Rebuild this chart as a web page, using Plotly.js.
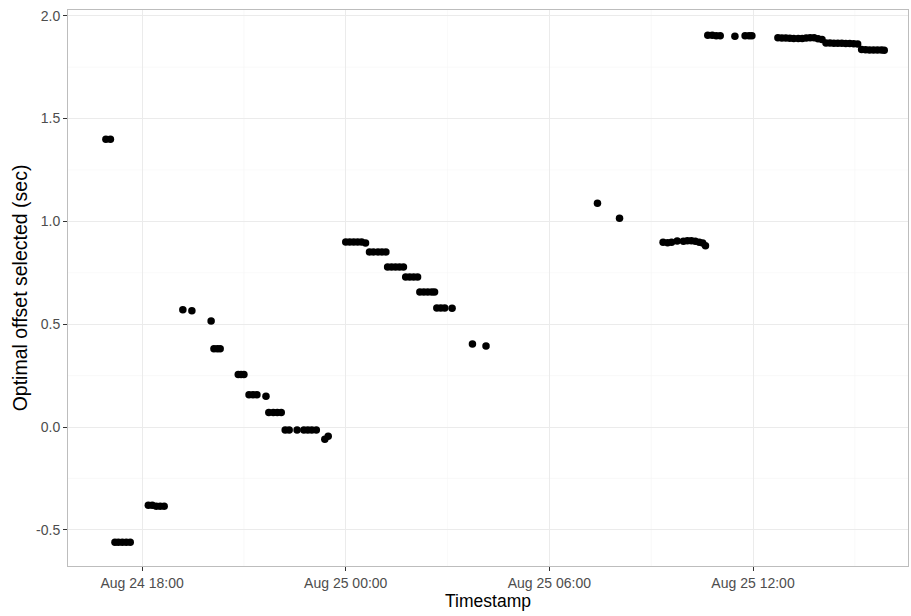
<!DOCTYPE html>
<html>
<head>
<meta charset="utf-8">
<script src="https://cdn.plot.ly/plotly-3.0.1.min.js"></script>
<style>html,body{margin:0;padding:0;background:#fff;}#chart{width:911px;height:616px;}</style>
</head>
<body>
<div id="chart"></div>
<script>
const timestamps = [
  "2020-08-24 16:56","2020-08-24 17:04",
  "2020-08-24 17:12","2020-08-24 17:18","2020-08-24 17:25","2020-08-24 17:32","2020-08-24 17:39",
  "2020-08-24 18:11","2020-08-24 18:18","2020-08-24 18:25","2020-08-24 18:32","2020-08-24 18:39",
  "2020-08-24 19:12","2020-08-24 19:28",
  "2020-08-24 20:02",
  "2020-08-24 20:07","2020-08-24 20:13","2020-08-24 20:18",
  "2020-08-24 20:50","2020-08-24 20:55","2020-08-24 21:00",
  "2020-08-24 21:09","2020-08-24 21:16","2020-08-24 21:23","2020-08-24 21:39",
  "2020-08-24 21:44","2020-08-24 21:52","2020-08-24 21:59","2020-08-24 22:06",
  "2020-08-24 22:13","2020-08-24 22:20","2020-08-24 22:34","2020-08-24 22:46","2020-08-24 22:53","2020-08-24 23:00","2020-08-24 23:08",
  "2020-08-24 23:23","2020-08-24 23:29",
  "2020-08-25 00:00","2020-08-25 00:07","2020-08-25 00:14","2020-08-25 00:21","2020-08-25 00:28","2020-08-25 00:35",
  "2020-08-25 00:42","2020-08-25 00:49","2020-08-25 00:57","2020-08-25 01:04","2020-08-25 01:11",
  "2020-08-25 01:14","2020-08-25 01:21","2020-08-25 01:28","2020-08-25 01:35","2020-08-25 01:42",
  "2020-08-25 01:46","2020-08-25 01:53","2020-08-25 02:00","2020-08-25 02:07",
  "2020-08-25 02:11","2020-08-25 02:18","2020-08-25 02:25","2020-08-25 02:32","2020-08-25 02:37",
  "2020-08-25 02:41","2020-08-25 02:48","2020-08-25 02:55","2020-08-25 03:08",
  "2020-08-25 03:44","2020-08-25 04:08",
  "2020-08-25 07:25","2020-08-25 08:04",
  "2020-08-25 09:21","2020-08-25 09:29","2020-08-25 09:36","2020-08-25 09:46","2020-08-25 09:57","2020-08-25 10:04",
  "2020-08-25 10:11","2020-08-25 10:18","2020-08-25 10:25","2020-08-25 10:31","2020-08-25 10:36",
  "2020-08-25 10:40","2020-08-25 10:48","2020-08-25 10:55","2020-08-25 11:02",
  "2020-08-25 11:28","2020-08-25 11:46","2020-08-25 11:53","2020-08-25 11:58",
  "2020-08-25 12:44","2020-08-25 12:51","2020-08-25 12:58","2020-08-25 13:05","2020-08-25 13:12","2020-08-25 13:20",
  "2020-08-25 13:27","2020-08-25 13:34","2020-08-25 13:41","2020-08-25 13:48","2020-08-25 13:55","2020-08-25 14:02",
  "2020-08-25 14:09","2020-08-25 14:16","2020-08-25 14:23","2020-08-25 14:30","2020-08-25 14:37","2020-08-25 14:44",
  "2020-08-25 14:51","2020-08-25 14:58","2020-08-25 15:05",
  "2020-08-25 15:12","2020-08-25 15:19","2020-08-25 15:26","2020-08-25 15:33","2020-08-25 15:40","2020-08-25 15:47","2020-08-25 15:52"
];
const offsets = [
  1.40,1.40,
  -0.56,-0.56,-0.56,-0.56,-0.56,
  -0.38,-0.38,-0.385,-0.385,-0.385,
  0.57,0.565,
  0.515,
  0.38,0.38,0.38,
  0.255,0.255,0.255,
  0.157,0.157,0.157,0.15,
  0.07,0.07,0.07,0.07,
  -0.015,-0.015,-0.015,-0.015,-0.015,-0.015,-0.015,
  -0.06,-0.045,
  0.90,0.90,0.90,0.90,0.90,0.895,
  0.851,0.851,0.851,0.851,0.851,
  0.778,0.778,0.778,0.778,0.778,
  0.73,0.73,0.73,0.73,
  0.657,0.657,0.657,0.657,0.657,
  0.579,0.579,0.579,0.577,
  0.404,0.394,
  1.088,1.015,
  0.898,0.896,0.898,0.905,0.903,0.906,
  0.906,0.903,0.899,0.895,0.882,
  1.905,1.905,1.903,1.903,
  1.90,1.903,1.903,1.903,
  1.893,1.892,1.892,1.891,1.890,1.890,
  1.889,1.892,1.893,1.893,1.888,1.885,
  1.868,1.867,1.866,1.866,1.866,1.865,
  1.865,1.864,1.863,
  1.836,1.835,1.834,1.834,1.833,1.833,1.832
];
const xTickVals = ["2020-08-24 18:00","2020-08-25 00:00","2020-08-25 06:00","2020-08-25 12:00"];
const xTickText = ["Aug 24 18:00","Aug 25 00:00","Aug 25 06:00","Aug 25 12:00"];
const xMinorVals = ["2020-08-24 15:00","2020-08-24 21:00","2020-08-25 03:00","2020-08-25 09:00","2020-08-25 15:00"];
const yTickVals = [-0.5,0.0,0.5,1.0,1.5,2.0];
const yTickText = ["-0.5","0.0","0.5","1.0","1.5","2.0"];
const yMinorVals = [-0.25,0.25,0.75,1.25,1.75];

const gridMinor = "#F5F5F5";
const shapes = [];
xMinorVals.forEach(v => shapes.push({type:"line",xref:"x",yref:"paper",x0:v,x1:v,y0:0,y1:1,layer:"below",line:{color:gridMinor,width:0.6}}));
yMinorVals.forEach(v => shapes.push({type:"line",xref:"paper",yref:"y",x0:0,x1:1,y0:v,y1:v,layer:"below",line:{color:gridMinor,width:0.6}}));

const data = [{
  type:"scatter", mode:"markers",
  x: timestamps, y: offsets,
  marker:{color:"#000000", size:7.5, line:{width:0}},
  hoverinfo:"x+y"
}];

const layout = {
  width:911, height:616,
  margin:{l:68, r:3, t:10, b:50},
  paper_bgcolor:"#ffffff", plot_bgcolor:"#ffffff",
  font:{family:"Liberation Sans, Arial, sans-serif", color:"#4D4D4D"},
  showlegend:false,
  shapes: shapes,
  xaxis:{
    type:"date",
    range:["2020-08-24 15:49","2020-08-25 16:34"],
    tickvals:xTickVals, ticktext:xTickText,
    ticks:"outside", ticklen:4, tickwidth:1, tickcolor:"#333333",
    tickfont:{size:14, color:"#4D4D4D"},
    showgrid:true, gridcolor:"#EBEBEB", gridwidth:1,
    zeroline:false, showline:true, mirror:true, linecolor:"#BDBDBD", linewidth:1,
    title:{text:"Timestamp", font:{size:17.5, color:"#000000"}, standoff:1}
  },
  yaxis:{
    range:[-0.676, 2.028],
    tickvals:yTickVals, ticktext:yTickText,
    ticks:"outside", ticklen:4, tickwidth:1, tickcolor:"#333333",
    tickfont:{size:14, color:"#4D4D4D"},
    showgrid:true, gridcolor:"#EBEBEB", gridwidth:1,
    zeroline:false, showline:true, mirror:true, linecolor:"#BDBDBD", linewidth:1,
    title:{text:"Optimal offset selected (sec)", font:{size:19.5, color:"#000000"}, standoff:3}
  }
};
Plotly.newPlot("chart", data, layout, {displayModeBar:false, staticPlot:true});
</script>
</body>
</html>
